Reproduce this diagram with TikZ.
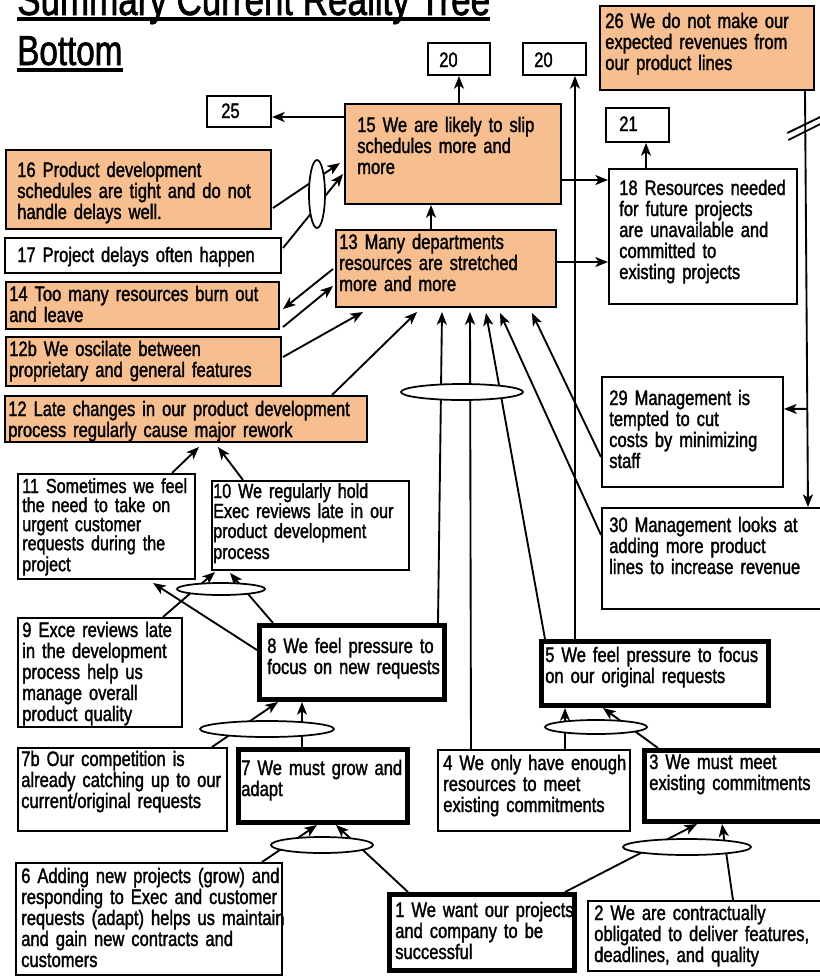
\documentclass[tikz,border=0pt]{standalone}
\usepackage{fontspec}
\setmainfont{Liberation Sans}[FakeStretch=0.79,FakeBold=1.5]
\usetikzlibrary{arrows.meta,shapes.geometric,calc}
\definecolor{crtorange}{RGB}{247,191,143}

% box node with its text: name, style, x1, y1, x2, y2, text dx, first-baseline dy, text
\newcommand\crtbox[9]{%
  \node[#2, anchor=north west,
        minimum width={(#5-#3)*0.75pt-\pgflinewidth},
        minimum height={(#6-#4)*0.75pt-\pgflinewidth}] (#1) at (#3,#4) {};
  \node[txt, anchor=base west] (#1t) at ([shift={(#7,#8)}]#1.north west) {#9};
}

\begin{document}
\begin{tikzpicture}[x=0.75pt,y=-0.75pt,
  every node/.style={inner sep=0pt},
  plain/.style={draw=black, line width=1.7pt, fill=white, rectangle},
  hot/.style={plain, fill=crtorange},
  heavy/.style={plain, line width=3.6pt},
  txt/.style={text width=320pt, align=left, font=\fontsize{15.7}{15.75}\selectfont},
  lens/.style={draw=black, line width=1.3pt, fill=white, ellipse},
  link/.style={draw=black, line width=1.4pt},
  arr/.style={link, -{Stealth[length=9.5pt,width=7.5pt,inset=2.5pt]}},
  titletxt/.style={font=\fontsize{31.5}{34}\selectfont},
]
\useasboundingbox (0,0) rectangle (820,976);
\clip (0,0) rectangle (820,976);

% title
\node[titletxt, font=\fontsize{33.2}{34}\selectfont, anchor=base west] (title1) at (17,15) {Summary Current Reality Tree};
\node[titletxt, anchor=base west] (title2) at (17,65) {Bottom};
\draw[line width=2.3pt] ([shift={(0,4)}]title1.base west) -- ([shift={(0,4)}]title1.base east);
\draw[line width=2.3pt] ([shift={(0,5)}]title2.base west) -- ([shift={(0,5)}]title2.base east);

% entities
\crtbox{n25}{plain}{206}{95}{272}{128}{15}{23}{25}
\crtbox{n20a}{plain}{427}{42}{491}{76}{12}{25}{20}
\crtbox{n20b}{plain}{522}{42}{587}{76}{12}{25}{20}
\crtbox{n26}{hot}{599}{5}{815}{91}{6}{23}{26 We do not make our\\expected revenues from\\our product lines}
\crtbox{n21}{plain}{605}{107}{670}{143}{14}{24}{21}
\crtbox{n15}{hot}{344}{103}{562}{205}{13}{29}{15 We are likely to slip\\schedules more and\\more}
\crtbox{n18}{plain}{608}{168}{798}{305}{11}{27}{18 Resources needed\\for future projects\\are unavailable and\\committed to\\existing projects}
\crtbox{n16}{hot}{5}{149}{272}{230}{12}{28}{16 Product development\\schedules are tight and do not\\handle delays well.}
\crtbox{n17}{plain}{4}{237}{282}{274}{13}{25}{17 Project delays often happen}
\crtbox{n13}{hot}{335}{229}{557}{308}{4}{20}{13 Many departments\\resources are stretched\\more and more}
\crtbox{n14}{hot}{5}{281}{280}{330}{4}{20}{14 Too many resources burn out\\and leave}
\crtbox{n12b}{hot}{5}{336}{282}{387}{4}{20}{12b We oscilate between\\proprietary and general features}
\crtbox{n12}{hot}{4}{395}{368}{443}{4}{21}{12 Late changes in our product development\\process regularly cause major rework}
\crtbox{n11}{plain}{17}{473}{196}{580}{5}{20}{\fontsize{15.3}{14.3}\selectfont 11 Sometimes we feel\\the need to take on\\urgent customer\\requests during the\\project}
\crtbox{n10}{plain}{211}{480}{410}{571}{2}{18}{\fontsize{15.3}{15}\selectfont 10 We regularly hold\\Exec reviews late in our\\product development\\process}
\crtbox{n9}{plain}{17}{617}{183}{728}{5}{20}{9 Exce reviews late\\in the development\\process help us\\manage overall\\product quality}
\crtbox{n8}{heavy}{257}{623}{447}{702}{10}{30}{8 We feel pressure to\\focus on new requests}
\crtbox{n29}{plain}{601}{376}{784}{488}{8}{29}{29 Management is\\tempted to cut\\costs by minimizing\\staff}
\crtbox{n30}{plain}{601}{507}{826}{610}{8}{25}{30 Management looks at\\adding more product\\lines to increase revenue}
\crtbox{n5}{heavy}{539}{639}{771}{708}{6}{23}{5 We feel pressure to focus\\on our original requests}
\crtbox{n7b}{plain}{17}{747}{228}{832}{4}{19}{7b Our competition is\\already catching up to our\\current/original requests}
\crtbox{n7}{heavy}{236}{747}{410}{825}{5}{28}{7 We must grow and\\adapt}
\crtbox{n4}{plain}{437}{749}{631}{832}{6}{21}{4 We only have enough\\resources to meet\\existing commitments}
\crtbox{n3}{heavy}{642}{748}{826}{824}{7}{21}{3 We must meet\\existing commitments}
\crtbox{n6}{plain}{15}{862}{283}{976}{6}{21}{6 Adding new projects (grow) and\\responding to Exec and customer\\requests (adapt) helps us maintain\\and gain new contracts and\\customers}
\crtbox{n1}{heavy}{387}{892}{577}{973}{8}{25}{1 We want our projects\\and company to be\\successful}
\crtbox{n2}{plain}{587}{900}{826}{972}{7}{20}{2 We are contractually\\obligated to deliver features,\\deadlines, and quality}

% upper causes
\draw[arr] ([shift={(0,14)}]n15.north west) -- ([shift={(66,22)}]n25.north west);
\draw[arr] ([shift={(115,0)}]n15.north west) -- ([shift={(32,34)}]n20a.north west);
\draw[arr] ([shift={(36,0)}]n5.north west) -- ([shift={(53,34)}]n20b.north west);
\draw[arr] ([shift={(218,77)}]n15.north west) -- ([shift={(0,12)}]n18.north west);
\draw[arr] ([shift={(38,0)}]n18.north west) -- ([shift={(41,36)}]n21.north west);
\draw[arr] ([shift={(96,0)}]n13.north west) -- ([shift={(87,102)}]n15.north west);
\draw[arr] ([shift={(222,33)}]n13.north west) -- ([shift={(0,94)}]n18.north west);
\draw[arr] ([shift={(268,59)}]n16.north west) -- ([shift={(-4,60)}]n15.north west);
\draw[arr] ([shift={(279,11)}]n17.north west) -- ([shift={(-1,71)}]n15.north west);
\draw[arr] ([shift={(-2,40)}]n13.north west) -- ([shift={(278,28)}]n14.north west);
\draw[arr] ([shift={(278,46)}]n14.north west) -- ([shift={(-2,57)}]n13.north west);
\draw[arr] ([shift={(278,21)}]n12b.north west) -- ([shift={(28,83)}]n13.north west);
\draw[arr] ([shift={(328,0)}]n12.north west) -- ([shift={(82,83)}]n13.north west);
\draw[arr] ([shift={(181,0)}]n8.north west) -- ([shift={(107,83)}]n13.north west);
\draw[arr] ([shift={(34,0)}]n4.north west) -- ([shift={(135,83)}]n13.north west);
\draw[arr] ([shift={(6,0)}]n5.north west) -- ([shift={(151,84)}]n13.north west);
\draw[arr] ([shift={(0,28)}]n30.north west) -- ([shift={(165,84)}]n13.north west);
\draw[arr] ([shift={(0,81)}]n29.north west) -- ([shift={(197,84)}]n13.north west);

% revenue branch with delay mark
\coordinate (a26) at ([shift={(206,86)}]n26.north west);
\coordinate (b30) at ([shift={(207,0)}]n30.north west);
\coordinate (j29) at ($(a26)!0.764!(b30)$);
\coordinate (cut26) at ($(a26)!0.089!(b30)$);
\draw[arr] (a26) -- (b30);
\draw[arr] (j29) -- ([shift={(183,33)}]n29.north west);
\draw[link] ([shift={(-18,5)}]cut26) -- ([shift={(17,-12)}]cut26);
\draw[link] ([shift={(-17,12)}]cut26) -- ([shift={(17,-5)}]cut26);

% lower causes
\draw[arr] ([shift={(0,27)}]n8.north west) -- ([shift={(136,110)}]n11.north west);
\draw[arr] ([shift={(16,0)}]n8.north west) -- ([shift={(19,93)}]n10.north west);
\draw[arr] ([shift={(146,0)}]n9.north west) -- ([shift={(4,92)}]n10.north west);
\draw[arr] ([shift={(155,0)}]n11.north west) -- ([shift={(195,52)}]n12.north west);
\draw[arr] ([shift={(32,0)}]n10.north west) -- ([shift={(214,52)}]n12.north west);
\draw[arr] ([shift={(195,0)}]n7b.north west) -- ([shift={(21,79)}]n8.north west);
\draw[arr] ([shift={(66,0)}]n7.north west) -- ([shift={(45,79)}]n8.north west);
\draw[arr] ([shift={(247,0)}]n6.north west) -- ([shift={(81,78)}]n7.north west);
\draw[arr] ([shift={(21,0)}]n1.north west) -- ([shift={(100,78)}]n7.north west);
\draw[arr] ([shift={(128,0)}]n4.north west) -- ([shift={(26,69)}]n5.north west);
\draw[arr] ([shift={(16,0)}]n3.north west) -- ([shift={(64,69)}]n5.north west);
\draw[arr] ([shift={(178,0)}]n1.north west) -- ([shift={(55,76)}]n3.north west);
\draw[arr] ([shift={(146,0)}]n2.north west) -- ([shift={(80,76)}]n3.north west);

% sufficiency ellipses
\node[lens, minimum width=16*0.75pt, minimum height=68*0.75pt] (e15) at (317,194) {};
\node[lens, minimum width=122*0.75pt, minimum height=16*0.75pt] (e13) at (462,392) {};
\node[lens, minimum width=88*0.75pt, minimum height=12*0.75pt] (e10) at (221,589) {};
\node[lens, minimum width=134*0.75pt, minimum height=16*0.75pt] (e8) at (267,729) {};
\node[lens, minimum width=102*0.75pt, minimum height=16*0.75pt] (e7) at (322,845) {};
\node[lens, minimum width=102*0.75pt, minimum height=14*0.75pt] (e5) at (596,727) {};
\node[lens, minimum width=128*0.75pt, minimum height=16*0.75pt] (e3) at (687,847) {};
\end{tikzpicture}
\end{document}
